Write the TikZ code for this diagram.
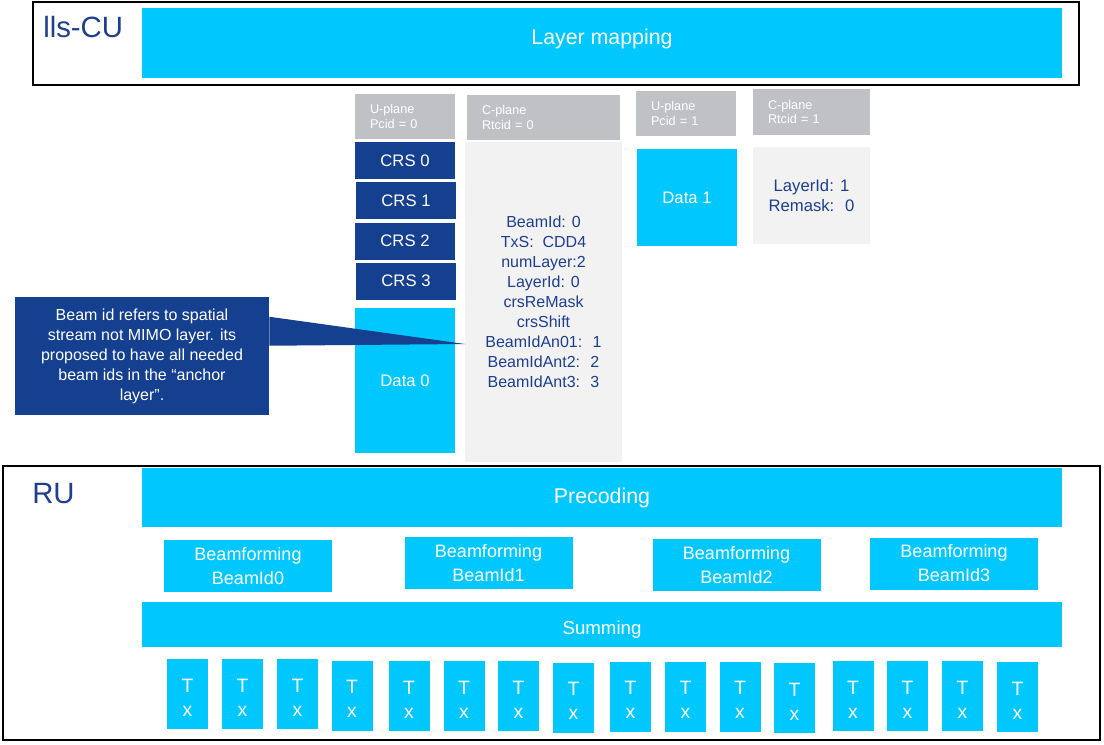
\documentclass[tikz,border=0pt]{standalone}
\usepackage{fontspec}
\setmainfont{Liberation Sans}
\usetikzlibrary{positioning}
\definecolor{sky}{RGB}{0,200,255}
\definecolor{navy}{RGB}{20,64,143}
\definecolor{ink}{RGB}{31,63,140}
\definecolor{slate}{RGB}{191,193,197}
\definecolor{mist}{RGB}{242,242,242}

\tikzset{
  wh/.style 2 args={minimum width=#1*0.75pt, minimum height=#2*0.75pt},
  skyblock/.style={fill=sky, text=white, inner sep=0pt, align=center},
  navyblock/.style={fill=navy, text=white, inner sep=0pt, align=center},
  mistblock/.style={fill=mist, text=ink, inner sep=0pt, align=center},
  hdr/.style={fill=slate, text=white, inner ysep=0pt, inner xsep=11.25pt, align=left,
    font=\fontsize{9.5}{11}\selectfont},
  frame/.style={draw=black, line width=2pt, inner sep=0pt},
  title/.style={text=ink, inner sep=0pt, font=\fontsize{22}{26}\selectfont},
}

\begin{document}
\begin{tikzpicture}[x=0.75pt, y=-0.75pt]
  \useasboundingbox (0,0) rectangle (1104,744);
  \fill[white] (0,0) rectangle (1104,744);

  % lls-CU
  \node[frame, wh={1046}{83}] (cu) at (556,43.5) {};
  \node[title, anchor=base west] (cutitle) at (43,37) {lls-CU};
  \node[skyblock, wh={920}{70}, font=\fontsize{16}{19}\selectfont] (layermap) at (602,43)
    {\vphantom{\rule[-9.5pt]{1pt}{9.5pt}}Layer mapping};

  % plane headers
  \foreach \n/\cx/\cy/\w/\h/\a/\b in {
      hu0/405/116.5/100/45/U-plane/Pcid = 0,
      hc0/543.5/117.5/153/45/C-plane/Rtcid = 0,
      hu1/686/113.5/100/45/U-plane/Pcid = 1,
      hc1/811.5/112/117/46/C-plane/Rtcid = 1}
  {
    \pgfmathsetmacro{\tw}{(\w-30)*0.75}
    \node[hdr, wh={\w}{\h}, text width=\tw pt] (\n) at (\cx,\cy) {\a\\\b};
  }

  % u-plane 0
  \foreach \i/\cx/\cy in {0/405/160.5, 1/406/200.5, 2/405/241, 3/406/281}
    \node[navyblock, wh={100}{37}, font=\fontsize{12.5}{15}\selectfont] (crs\i) at (\cx,\cy) {CRS \i};
  \node[skyblock, wh={100}{145}, font=\fontsize{12.5}{15}\selectfont] (data0) at (405,380.5) {Data 0};

  % c-plane 0
  \node[mistblock, wh={157}{320}, font=\fontsize{12}{15}\selectfont] (cbody0) at (543.5,302)
    {BeamId: 0\\TxS: \ CDD4\\numLayer:2\\LayerId: 0\\crsReMask\\crsShift\\BeamIdAn01: \ 1\\BeamIdAnt2: \ 2\\BeamIdAnt3: \ 3};

  % plane 1
  \node[skyblock, wh={100}{97}, font=\fontsize{12.5}{15}\selectfont] (data1) at (687,197.5) {Data 1};
  \node[mistblock, wh={117}{97}, font=\fontsize{12.5}{15}\selectfont] (cbody1) at (811.5,195.5)
    {LayerId: 1\\Remask: \ 0};

  % callout
  \node[navyblock, wh={254}{118}, font=\fontsize{12}{15}\selectfont] (note) at (142,356)
    {Beam id refers to spatial\\stream not MIMO layer. its\\proposed to have all needed\\beam ids in the “anchor\\layer”.};
  \coordinate (tip) at (465,344);
  \fill[navy] ([yshift=-15pt]note.north east) -- (tip) -- ([yshift=-36.75pt]note.north east) -- cycle;

  % RU
  \node[frame, wh={1097}{274}] (ru) at (551.5,603) {};
  \node[title, anchor=base west] (rutitle) at (32,503) {RU};
  \node[skyblock, wh={920}{59}, font=\fontsize{16}{19}\selectfont] (precoding) at (602,497.5) {Precoding};
  \foreach \i/\cx/\cy in {0/248/566, 1/488.5/563, 2/736.5/565, 3/954/563.5}
    \node[skyblock, wh={168}{52}, font=\fontsize{13.5}{18}\selectfont] (bf\i) at (\cx,\cy) {Beamforming\\BeamId\i};
  \node[skyblock, wh={920}{45}, font=\fontsize{14}{17}\selectfont] (summing) at (602,624.5)
    {\vphantom{\rule{1pt}{17.6pt}}Summing};

  % antennas
  \foreach \cx/\cy [count=\i] in {187.5/694, 242.5/694, 297.5/694, 352/695.5, 409/696, 464/696,
      518.5/696, 573.5/697.5, 630.5/696.5, 685.5/696.5, 740/696.5, 794.5/698,
      853/696, 907.5/696, 962.5/696, 1017.5/697}
    \node[skyblock, wh={41}{70}, font=\fontsize{14.5}{18}\selectfont] (tx\i) at (\cx,\cy)
      {\vphantom{\rule{1pt}{15.5pt}}T\\x};
\end{tikzpicture}
\end{document}
